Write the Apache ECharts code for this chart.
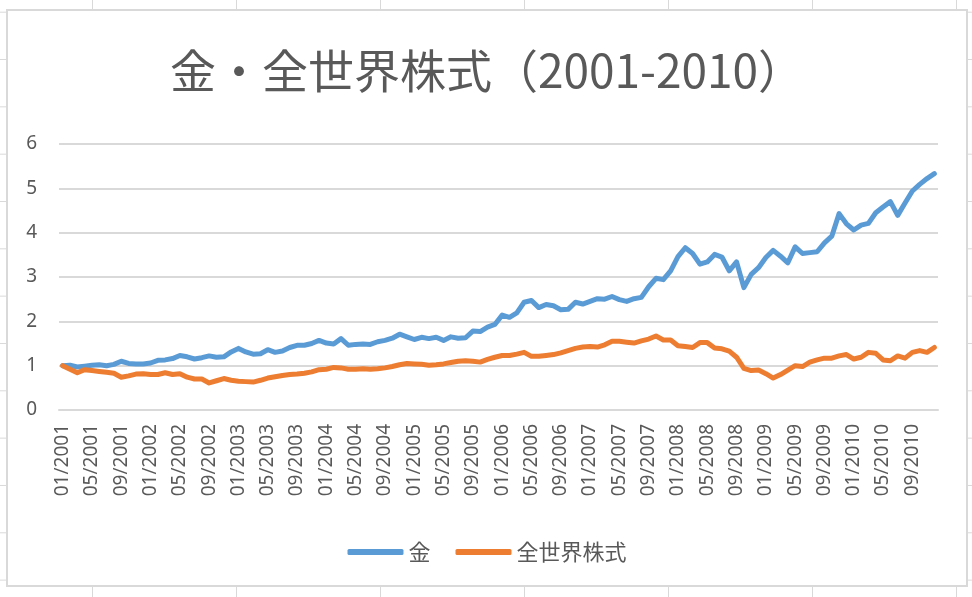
<!DOCTYPE html>
<html>
<head>
<meta charset="utf-8">
<script src="https://cdn.jsdelivr.net/npm/echarts@6/dist/echarts.min.js"></script>
<style>
  html, body {
    margin: 0;
    width: 972px;
    height: 597px;
    overflow: hidden;
    background-color: #fff;
    background-image:
      linear-gradient(to right, #d9d9d9 0, #d9d9d9 1px, transparent 1px),
      linear-gradient(to bottom, #d9d9d9 0, #d9d9d9 1px, transparent 1px);
    background-size: 144px 100%, 100% 47.33px;
    background-position: 92px 0, 0 11.7px;
  }
  #chart {
    position: absolute;
    left: 6px;
    top: 9px;
    width: 958px;
    height: 574px;
    border: 2px solid #d9d9d9;
    background: #fff;
  }
</style>
</head>
<body>
<div id="chart"></div>
<script>
// monthly index, 01/2001 = 1
var years = [2001, 2002, 2003, 2004, 2005, 2006, 2007, 2008, 2009, 2010];
var months = ['01', '02', '03', '04', '05', '06', '07', '08', '09', '10', '11', '12'];

var gold = [
  1.00, 1.01, 0.97, 0.99, 1.01, 1.02, 1.00, 1.03, 1.10, 1.05, 1.04, 1.04,
  1.06, 1.12, 1.13, 1.16, 1.23, 1.20, 1.15, 1.18, 1.22, 1.19, 1.20, 1.31,
  1.39, 1.31, 1.26, 1.27, 1.36, 1.30, 1.33, 1.41, 1.46, 1.46, 1.50, 1.57,
  1.51, 1.49, 1.61, 1.46, 1.48, 1.49, 1.48, 1.54, 1.57, 1.62, 1.71, 1.65,
  1.59, 1.64, 1.61, 1.64, 1.57, 1.65, 1.62, 1.63, 1.78, 1.77, 1.87, 1.93,
  2.14, 2.09, 2.19, 2.43, 2.47, 2.31, 2.38, 2.35, 2.26, 2.27, 2.43, 2.39,
  2.45, 2.51, 2.50, 2.56, 2.49, 2.45, 2.51, 2.54, 2.78, 2.97, 2.94, 3.14,
  3.46, 3.66, 3.53, 3.29, 3.34, 3.51, 3.45, 3.14, 3.34, 2.76, 3.06, 3.21,
  3.44, 3.60, 3.47, 3.32, 3.68, 3.53, 3.55, 3.57, 3.77, 3.92, 4.43, 4.20,
  4.06, 4.17, 4.21, 4.45, 4.58, 4.70, 4.39, 4.67, 4.94, 5.09, 5.22, 5.33
];

var stocks = [
  1.00, 0.92, 0.84, 0.91, 0.89, 0.87, 0.85, 0.83, 0.74, 0.77, 0.81, 0.82,
  0.80, 0.80, 0.84, 0.80, 0.82, 0.74, 0.70, 0.70, 0.61, 0.66, 0.71, 0.67,
  0.65, 0.64, 0.63, 0.67, 0.72, 0.75, 0.78, 0.80, 0.81, 0.83, 0.86, 0.91,
  0.92, 0.96, 0.95, 0.92, 0.92, 0.93, 0.92, 0.93, 0.95, 0.98, 1.02, 1.05,
  1.04, 1.03, 1.01, 1.02, 1.04, 1.07, 1.10, 1.11, 1.10, 1.08, 1.14, 1.19,
  1.23, 1.23, 1.26, 1.30, 1.21, 1.21, 1.23, 1.25, 1.29, 1.34, 1.39, 1.42,
  1.43, 1.42, 1.47, 1.55, 1.55, 1.53, 1.51, 1.56, 1.60, 1.67, 1.58, 1.58,
  1.45, 1.43, 1.41, 1.52, 1.52, 1.40, 1.38, 1.33, 1.19, 0.94, 0.89, 0.90,
  0.82, 0.72, 0.80, 0.90, 1.00, 0.98, 1.08, 1.13, 1.17, 1.17, 1.22, 1.25,
  1.15, 1.19, 1.30, 1.28, 1.13, 1.11, 1.22, 1.17, 1.30, 1.34, 1.30, 1.41
];

var yTicks = [0, 1, 2, 3, 4, 5, 6];

var categories = [];
years.forEach(function (y) {
  months.forEach(function (m) {
    categories.push(m + '/' + y);
  });
});

var textColor = '#595959';
var gridColor = '#d9d9d9';
var cjk = '"Noto Sans CJK JP", "Noto Sans", sans-serif';
var latin = '"Noto Sans", "Open Sans", sans-serif';

var chart = echarts.init(document.getElementById('chart'), null, { renderer: 'canvas' });

var option = {
  animation: false,
  title: {
    text: '金・全世界株式（2001-2010）',
    left: 'center',
    top: 32,
    textStyle: {
      fontFamily: cjk,
      fontSize: 46,
      fontWeight: 'normal',
      color: textColor
    }
  },
  legend: {
    top: 525,
    left: 'center',
    icon: 'roundRect',
    itemWidth: 56,
    itemHeight: 6,
    itemGap: 25,
    textStyle: {
      fontFamily: cjk,
      fontSize: 22,
      color: textColor
    },
    data: ['金', '全世界株式']
  },
  grid: {
    left: 51,
    right: 28,
    top: 133,
    bottom: 175
  },
  xAxis: {
    type: 'category',
    data: categories,
    boundaryGap: true,
    axisLine: { lineStyle: { color: gridColor, width: 2 } },
    axisTick: { show: false },
    axisLabel: {
      rotate: 90,
      interval: 3,
      margin: 14,
      fontFamily: latin,
      fontSize: 19,
      color: textColor
    }
  },
  yAxis: {
    type: 'value',
    min: yTicks[0],
    max: yTicks[yTicks.length - 1],
    interval: 1,
    axisLine: { show: false },
    axisTick: { show: false },
    axisLabel: {
      margin: 22,
      fontFamily: latin,
      fontSize: 19,
      color: textColor
    },
    splitLine: { lineStyle: { color: gridColor, width: 2 } }
  },
  series: [
    {
      name: '金',
      type: 'line',
      data: gold,
      symbol: 'none',
      color: '#5b9bd5',
      lineStyle: { width: 5, cap: 'round', join: 'round' }
    },
    {
      name: '全世界株式',
      type: 'line',
      data: stocks,
      symbol: 'none',
      color: '#ed7d31',
      lineStyle: { width: 5, cap: 'round', join: 'round' }
    }
  ]
};

chart.setOption(option);
</script>
</body>
</html>
